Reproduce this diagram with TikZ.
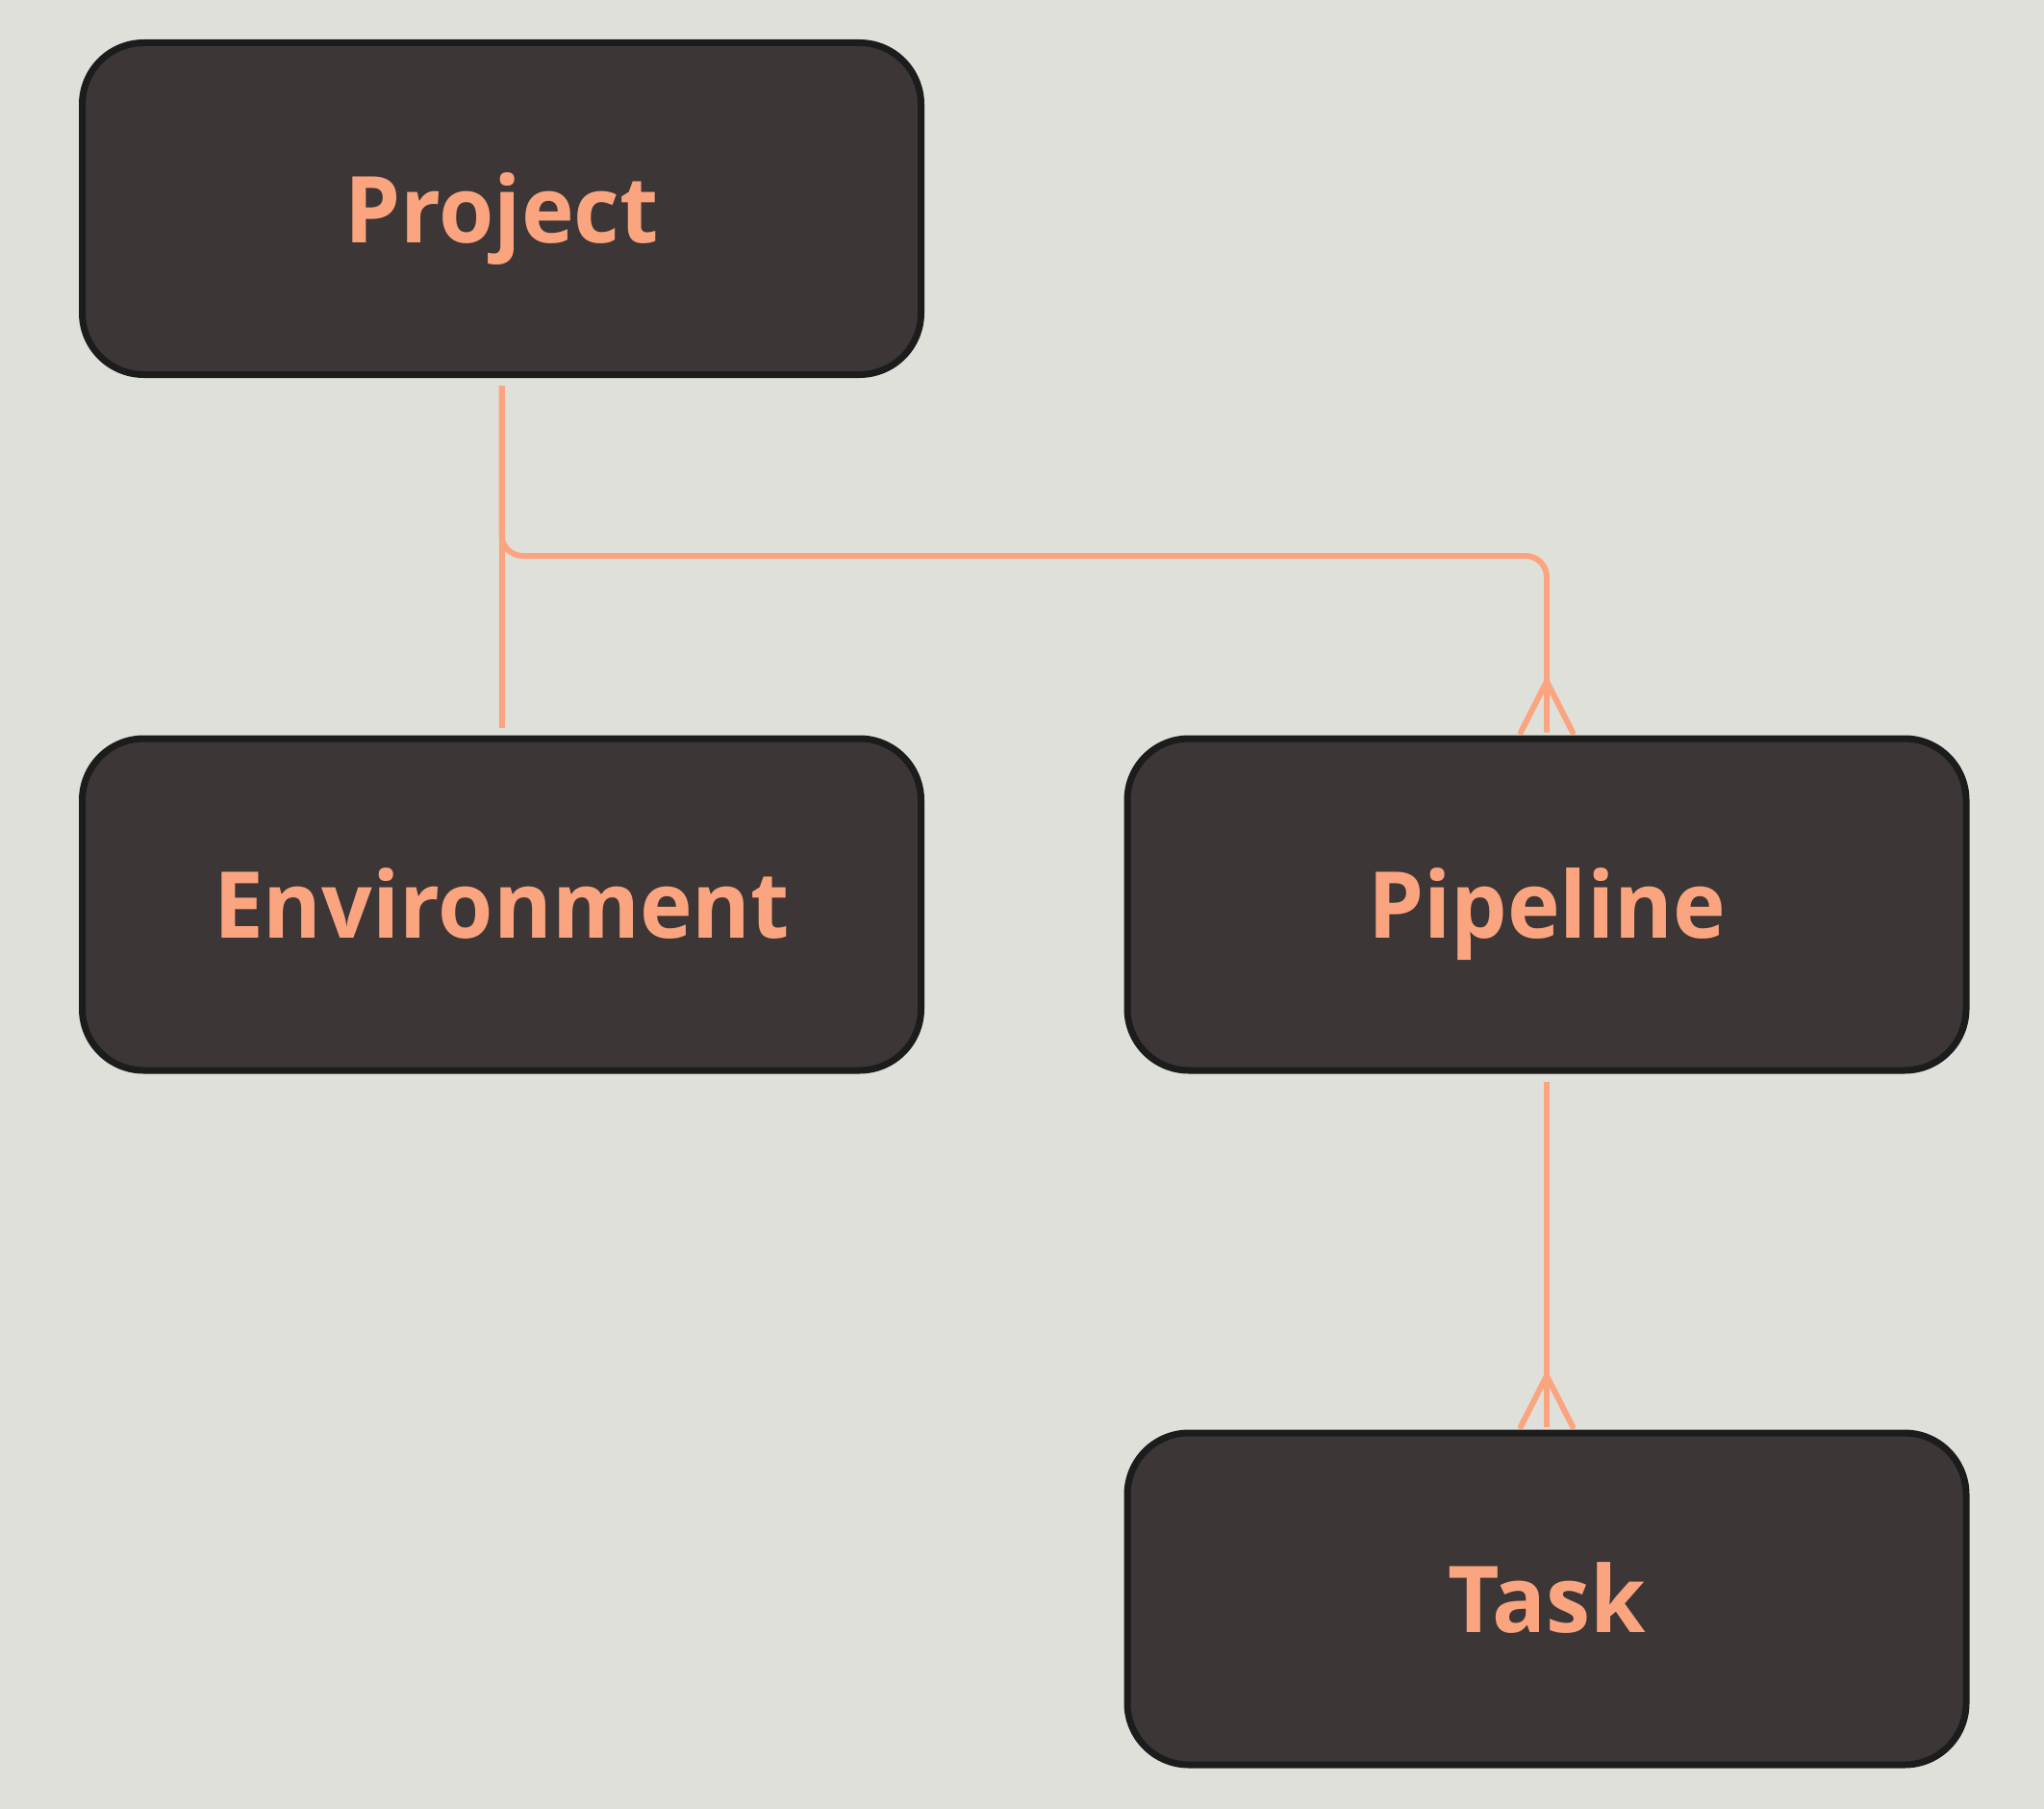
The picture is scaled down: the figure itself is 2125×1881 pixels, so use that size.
\documentclass[tikz,border=0pt]{standalone}
\usepackage{fontspec}
\setmainfont{Open Sans}
\newfontfamily\entfont[FakeStretch=0.965]{Open Sans}
\definecolor{bgc}{RGB}{223,224,218}
\definecolor{boxc}{RGB}{61,54,54}
\definecolor{edgec}{RGB}{28,28,28}
\definecolor{accent}{RGB}{250,165,127}
\tikzset{
  ent/.style={draw=edgec, fill=boxc, line width=7pt, rounded corners=64pt,
    minimum width=872pt, minimum height=345pt, inner sep=0pt,
    text height=70pt, text depth=0pt,
    text=accent, font=\entfont\fontsize{96}{110}\selectfont\bfseries},
  conn/.style={draw=accent, line width=6pt, line cap=round, line join=round}
}
\begin{document}
\begin{tikzpicture}[x=1pt,y=-1pt]
\fill[bgc] (0,0) rectangle (2125,1881);
\useasboundingbox (0,0) rectangle (2125,1881);
\node[ent] (project) at (521.5,217) {Project};
\node[ent] (env) at (521.5,940.5) {Environment};
\node[ent] (pipe) at (1608,940.5) {Pipeline};
\node[ent] (task) at (1608,1662.5) {Task};
\coordinate (br) at (521.5,578);
% Project -- Environment
\draw[conn, line cap=butt] ([yshift=-8pt]project.south) -- ([yshift=8pt]env.north);
% Project -- Pipeline
\draw[conn, line cap=butt, rounded corners=22pt] ([yshift=-8pt]project.south) -- (br) -- (br -| pipe.north) -- ([yshift=3pt]pipe.north);
\draw[conn] ([xshift=-27pt,yshift=3pt]pipe.north) -- ([yshift=56pt]pipe.north) -- ([xshift=27pt,yshift=3pt]pipe.north);
% Pipeline -- Task
\draw[conn, line cap=butt] ([yshift=-8pt]pipe.south) -- ([yshift=3pt]task.north);
\draw[conn] ([xshift=-27pt,yshift=3pt]task.north) -- ([yshift=56pt]task.north) -- ([xshift=27pt,yshift=3pt]task.north);
\end{tikzpicture}
\end{document}
